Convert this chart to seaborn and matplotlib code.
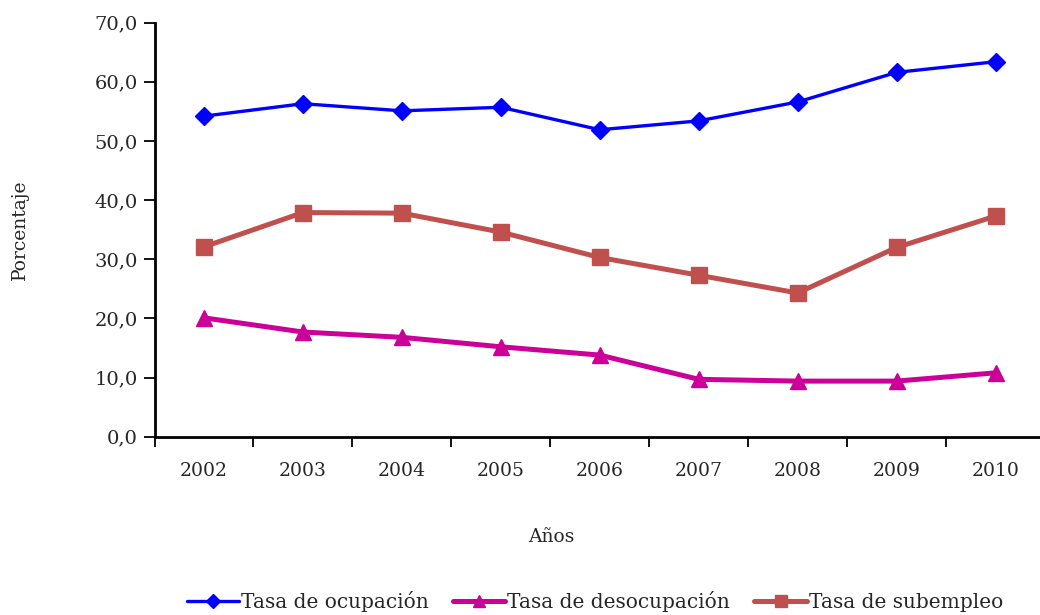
import matplotlib
matplotlib.use("Agg")
import matplotlib.pyplot as plt
import seaborn as sns
import pandas as pd
import numpy as np
from matplotlib.ticker import FixedLocator, NullFormatter

years = ["2002", "2003", "2004", "2005", "2006", "2007", "2008", "2009", "2010"]
ocupacion = [54.2, 56.3, 55.1, 55.7, 51.9, 53.4, 56.6, 61.6, 63.4]
desocupacion = [20.1, 17.7, 16.8, 15.2, 13.8, 9.7, 9.4, 9.4, 10.8]
subempleo = [32.1, 37.9, 37.8, 34.6, 30.3, 27.3, 24.3, 32.0, 37.3]

series_names = ["Tasa de ocupación", "Tasa de desocupación", "Tasa de subempleo"]
yticks = [0, 10, 20, 30, 40, 50, 60, 70]

sns.set_theme(style="white")
plt.rcParams["font.family"] = ["DejaVu Serif"]

fig = plt.figure(figsize=(10.4, 6.15), dpi=100)
ax = fig.add_axes([154.5 / 1040, (615 - 436.7) / 615, 890.5 / 1040, 414 / 615])

pos = np.arange(len(years))
df = pd.DataFrame({
    "pos": np.tile(pos, 3),
    "valor": ocupacion + desocupacion + subempleo,
    "serie": np.repeat(series_names, len(years)),
})

styles = {
    "Tasa de ocupación": dict(color="#0000FF", marker="D", ms=9, lw=2.4),
    "Tasa de desocupación": dict(color="#CC0099", marker="^", ms=12, lw=3.6),
    "Tasa de subempleo": dict(color="#C0504D", marker="s", ms=12, lw=3.6),
}
for name in series_names:
    st = styles[name]
    sub = df[df["serie"] == name]
    sns.lineplot(data=sub, x="pos", y="valor", ax=ax, color=st["color"],
                 marker=st["marker"], markersize=st["ms"], linewidth=st["lw"],
                 markeredgecolor=st["color"], markeredgewidth=1,
                 label=name, legend=False, clip_on=False)

ax.set_xlim(-0.5, len(years) - 0.5)
ax.set_ylim(0, 70)
ax.set_yticks(yticks)
ax.set_yticklabels([f"{v:.1f}".replace(".", ",") for v in yticks], fontsize=14)

ax.xaxis.set_major_locator(FixedLocator(np.arange(-0.5, len(years), 1.0)))
ax.xaxis.set_major_formatter(NullFormatter())
ax.xaxis.set_minor_locator(FixedLocator(pos))
ax.set_xticklabels(years, minor=True, fontsize=13.5)
ax.tick_params(axis="x", which="minor", bottom=True, length=0, pad=18)
ax.tick_params(axis="x", which="major", bottom=True, length=7, width=1.3,
               direction="out", color="black")
ax.tick_params(axis="y", left=True, length=8, width=1.3, direction="out",
               color="black", pad=4)

for s in ["top", "right"]:
    ax.spines[s].set_visible(False)
for s in ["left", "bottom"]:
    ax.spines[s].set_color("black")
    ax.spines[s].set_linewidth(2)

ax.set_xlabel("Años", fontsize=13.5)
ax.xaxis.set_label_coords(0.446, -0.2415)
ax.xaxis.label.set_va("center")
ax.set_ylabel("Porcentaje", fontsize=13.5)
ax.yaxis.set_label_coords(-0.151, 0.5)
ax.yaxis.label.set_va("center")

handles, labels = ax.get_legend_handles_labels()
fig.legend(handles, labels, loc="lower center", bbox_to_anchor=(0.572, -0.025),
           ncol=3, frameon=False, fontsize=14.5, handlelength=2.6,
           handletextpad=0.1, columnspacing=1.2, markerscale=0.75)

fig.savefig("out.png", dpi=100, facecolor="white")
